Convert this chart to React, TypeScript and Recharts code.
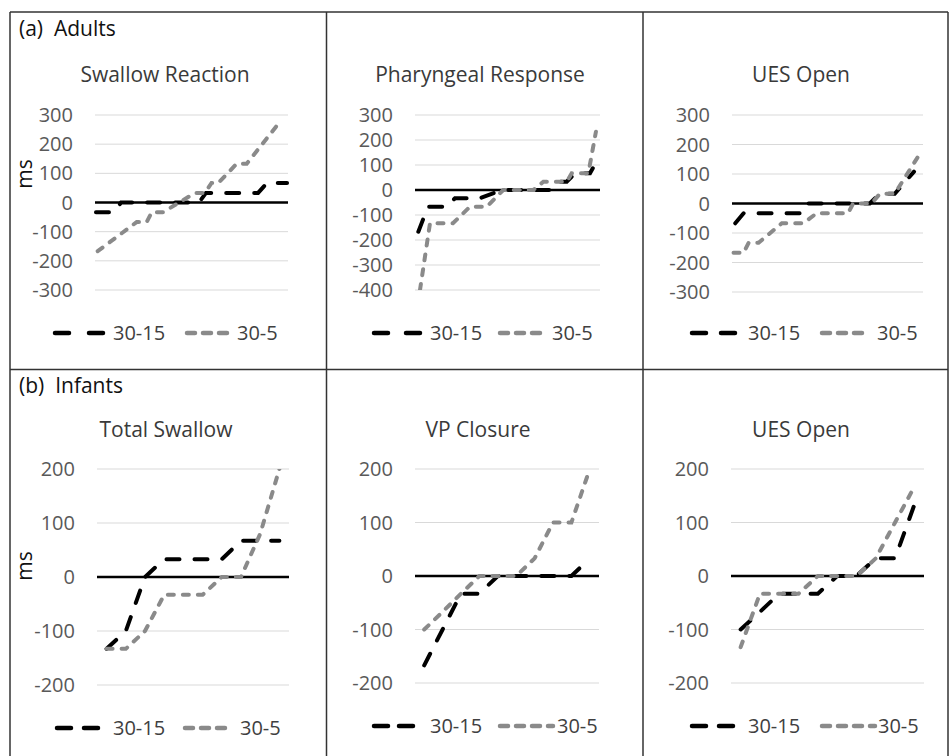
import React from 'react';
import { LineChart, Line, XAxis, YAxis, CartesianGrid, ReferenceLine } from 'recharts';

const FONT = "'Open Sans', 'Noto Sans', sans-serif";

// ---- Adults: vertex positions (% of plot width) and values (ms)
const swallowReactionX15 = [0.5, 9.8, 13.5, 53.9, 57.5, 84.5, 89.1, 99.5];
const swallowReaction15 = [-33, -33, 0, 0, 33, 33, 67, 67];
const swallowReactionX5 = [1.4, 21.6, 26.8, 29.4, 35.4, 51.8, 57, 60.4, 63.9, 73.4, 78.6, 95];
const swallowReaction5 = [-167, -67, -67, -33, -33, 33, 33, 67, 67, 133, 133, 270];

const pharyngealX15 = [1.8, 7.0, 17.1, 21.6, 35.1, 46.9, 73.9, 78.4, 82, 86.5, 94.6, 96.1];
const pharyngeal15 = [-167, -67, -67, -33, -33, 0, 0, 33, 33, 67, 67, 87];
const pharyngealX5 = [2.7, 8.1, 20.5, 29.7, 38.8, 47.7, 63.9, 69.4, 82, 84.7, 93.7, 97.8];
const pharyngeal5 = [-400, -133, -133, -67, -67, 0, 0, 33, 33, 67, 67, 233];

const uesAdultX15 = [1.7, 6.1, 36.5, 39.1, 72.1, 77.4, 85.2, 95.3];
const uesAdult15 = [-67, -33, -33, 0, 0, 33, 33, 108];
const uesAdultX5 = [0.8, 6.1, 8.7, 13.9, 26.1, 37.4, 44.3, 60.8, 63.4, 73, 77.4, 85.2, 98.2];
const uesAdult5 = [-167, -167, -133, -133, -67, -67, -33, -33, 0, 0, 33, 33, 167];

// ---- Infants: ten ranked cases
const infantRanks = [5, 15, 25, 35, 45, 55, 65, 75, 85, 95];
const totalSwallow15 = [-133, -100, 0, 33, 33, 33, 33, 67, 67, 67];
const totalSwallow5 = [-133, -133, -100, -33, -33, -33, 0, 0, 80, 200];
const vpClosure15 = [-167, -100, -33, -33, 0, 0, 0, 0, 0, 33];
const vpClosure5 = [-100, -67, -33, 0, 0, 0, 33, 100, 100, 200];
const uesInfant15 = [-100, -67, -33, -33, -33, 0, 0, 33, 33, 133];
const uesInfant5 = [-133, -33, -33, -33, 0, 0, 0, 33, 100, 167];

const adultTicksA = [-300, -200, -100, 0, 100, 200, 300];
const adultTicksB = [-400, -300, -200, -100, 0, 100, 200, 300];
const infantTicks = [-200, -100, 0, 100, 200];
const seriesNames = ['30-15', '30-5'];

type Row = { x: number; s15: number | null; s5: number | null };

function buildTable(x15: number[], y15: number[], x5: number[], y5: number[]): Row[] {
  const map = new Map<number, Row>();
  x15.forEach((x, i) => {
    const r = map.get(x) ?? { x, s15: null, s5: null };
    r.s15 = y15[i];
    map.set(x, r);
  });
  x5.forEach((x, i) => {
    const r = map.get(x) ?? { x, s15: null, s5: null };
    r.s5 = y5[i];
    map.set(x, r);
  });
  return Array.from(map.values()).sort((a, b) => a.x - b.x);
}

type PanelSpec = {
  title: string;
  table: Row[];
  domain: [number, number];
  ticks: number[];
  plot: { left: number; top: number; width: number; height: number };
  titleX: number;
  titleY: number;
  legend: { y: number; b1: number; b2: number; t1: number; g1: number; g2: number; t2: number };
};

const panels: PanelSpec[] = [
  {
    title: 'Swallow Reaction',
    table: buildTable(swallowReactionX15, swallowReaction15, swallowReactionX5, swallowReaction5),
    domain: [-300, 300],
    ticks: adultTicksA,
    plot: { left: 95, top: 115, width: 193, height: 175 },
    titleX: 165, titleY: 82,
    legend: { y: 333, b1: 53, b2: 105, t1: 113, g1: 185, g2: 232, t2: 237 },
  },
  {
    title: 'Pharyngeal Response',
    table: buildTable(pharyngealX15, pharyngeal15, pharyngealX5, pharyngeal5),
    domain: [-400, 300],
    ticks: adultTicksB,
    plot: { left: 415, top: 115, width: 185, height: 175 },
    titleX: 480, titleY: 82,
    legend: { y: 333, b1: 372, b2: 422, t1: 430, g1: 498, g2: 547, t2: 552 },
  },
  {
    title: 'UES Open',
    table: buildTable(uesAdultX15, uesAdult15, uesAdultX5, uesAdult5),
    domain: [-300, 300],
    ticks: adultTicksA,
    plot: { left: 732, top: 115, width: 191, height: 177 },
    titleX: 801, titleY: 82,
    legend: { y: 333, b1: 690, b2: 737, t1: 748, g1: 820, g2: 872, t2: 877 },
  },
  {
    title: 'Total Swallow',
    table: buildTable(infantRanks, totalSwallow15, infantRanks, totalSwallow5),
    domain: [-200, 200],
    ticks: infantTicks,
    plot: { left: 97, top: 469, width: 192, height: 216 },
    titleX: 166, titleY: 437,
    legend: { y: 728, b1: 55, b2: 100, t1: 113, g1: 183, g2: 233, t2: 240 },
  },
  {
    title: 'VP Closure',
    table: buildTable(infantRanks, vpClosure15, infantRanks, vpClosure5),
    domain: [-200, 200],
    ticks: infantTicks,
    plot: { left: 415, top: 469, width: 184, height: 214 },
    titleX: 478, titleY: 437,
    legend: { y: 726, b1: 372, b2: 415, t1: 430, g1: 498, g2: 555, t2: 557 },
  },
  {
    title: 'UES Open',
    table: buildTable(infantRanks, uesInfant15, infantRanks, uesInfant5),
    domain: [-200, 200],
    ticks: infantTicks,
    plot: { left: 731, top: 469, width: 193, height: 214 },
    titleX: 801, titleY: 437,
    legend: { y: 726, b1: 690, b2: 735, t1: 748, g1: 820, g2: 877, t2: 878 },
  },
];

const AXIS_W = 82;
const PAD = 22;
const BLACK = '#000000';
const GRAY = '#8a8a8a';

function PanelChart({ p }: { p: PanelSpec }) {
  return (
    <div style={{ position: 'absolute', left: p.plot.left - AXIS_W, top: p.plot.top - PAD }}>
      <LineChart
        width={p.plot.width + AXIS_W + PAD}
        height={p.plot.height + 2 * PAD}
        data={p.table}
        margin={{ top: PAD, right: PAD, bottom: PAD, left: 0 }}
        style={{ overflow: 'visible' }}
      >
        <CartesianGrid vertical={false} stroke="#d9d9d9" strokeWidth={1} />
        <XAxis type="number" dataKey="x" domain={[0, 100]} hide height={0} />
        <YAxis
          type="number"
          domain={p.domain}
          ticks={p.ticks}
          interval={0}
          width={AXIS_W}
          axisLine={false}
          tickLine={false}
          tickSize={6}
          tickMargin={16}
          allowDataOverflow
          tick={{ fill: '#595959', fontSize: 20, fontFamily: FONT }}
        />
        <ReferenceLine y={0} stroke="#000" strokeWidth={2.5} />
        <Line
          type="linear"
          dataKey="s15"
          stroke={BLACK}
          strokeWidth={4}
          strokeDasharray="13 15"
          strokeLinecap="round"
          dot={false}
          connectNulls
          isAnimationActive={false}
        />
        <Line
          type="linear"
          dataKey="s5"
          stroke={GRAY}
          strokeWidth={4}
          strokeDasharray="6 9"
          strokeLinecap="round"
          dot={false}
          connectNulls
          isAnimationActive={false}
        />
      </LineChart>
    </div>
  );
}

function Overlay() {
  const textStyle = { fontFamily: FONT } as React.CSSProperties;
  return (
    <svg
      width={950}
      height={756}
      style={{ position: 'absolute', left: 0, top: 0, pointerEvents: 'none' }}
    >
      {/* table borders */}
      <g stroke="#333" strokeWidth={1.5} fill="none">
        <line x1={10} y1={12} x2={948} y2={12} />
        <line x1={10} y1={12} x2={10} y2={756} />
        <line x1={948} y1={12} x2={948} y2={756} />
        <line x1={326.5} y1={12} x2={326.5} y2={756} />
        <line x1={643} y1={12} x2={643} y2={756} />
        <line x1={10} y1={369.5} x2={948} y2={369.5} />
      </g>
      <text x={19} y={36} fontSize={21} fill="#111" style={{ ...textStyle, whiteSpace: 'pre' }} xmlSpace="preserve">
        (a)  Adults
      </text>
      <text x={19} y={393} fontSize={21} fill="#111" style={{ ...textStyle, whiteSpace: 'pre' }} xmlSpace="preserve">
        (b)  Infants
      </text>
      <text x={0} y={0} fontSize={21} fill="#111" style={textStyle} textAnchor="middle" transform="translate(32,174) rotate(-90)">
        ms
      </text>
      <text x={0} y={0} fontSize={21} fill="#111" style={textStyle} textAnchor="middle" transform="translate(32,566) rotate(-90)">
        ms
      </text>
      {panels.map((p, i) => (
        <g key={i}>
          <text x={p.titleX} y={p.titleY} fontSize={21} fill="#3a3a3a" textAnchor="middle" style={textStyle}>
            {p.title}
          </text>
          {/* legend */}
          <line x1={p.legend.b1 + 2} y1={p.legend.y} x2={p.legend.b1 + 16} y2={p.legend.y} stroke={BLACK} strokeWidth={4.5} strokeLinecap="round" />
          <line x1={p.legend.b2 - 16} y1={p.legend.y} x2={p.legend.b2 - 2} y2={p.legend.y} stroke={BLACK} strokeWidth={4.5} strokeLinecap="round" />
          <text x={p.legend.t1} y={p.legend.y + 7} fontSize={20} fill="#404040" style={textStyle}>
            {seriesNames[0]}
          </text>
          <line
            x1={p.legend.g1 + 2}
            y1={p.legend.y}
            x2={p.legend.g2 - 2}
            y2={p.legend.y}
            stroke={GRAY}
            strokeWidth={4.5}
            strokeDasharray="8 8"
            strokeLinecap="round"
          />
          <text x={p.legend.t2} y={p.legend.y + 7} fontSize={20} fill="#404040" style={textStyle}>
            {seriesNames[1]}
          </text>
        </g>
      ))}
    </svg>
  );
}

export default function App() {
  return (
    <div style={{ position: 'absolute', left: 0, top: 0, width: 950, height: 756, background: '#fff', overflow: 'hidden' }}>
      {panels.map((p, i) => (
        <PanelChart key={i} p={p} />
      ))}
      <Overlay />
    </div>
  );
}
